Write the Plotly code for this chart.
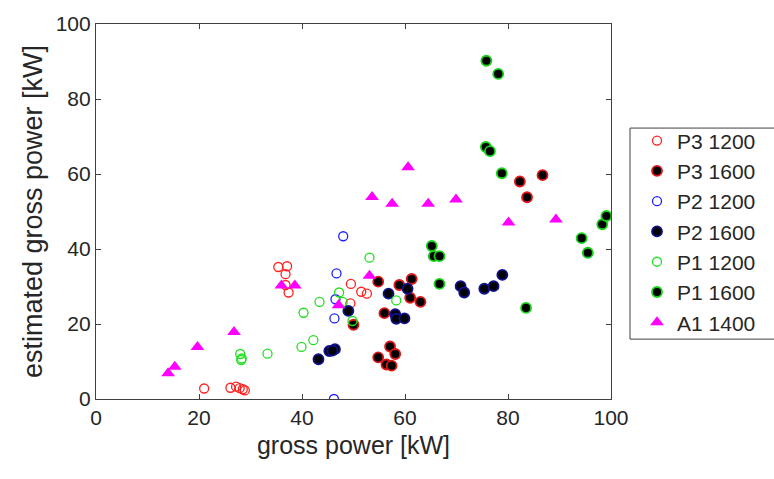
import plotly.graph_objects as go

# ---- data ----
p3_1200_x = [21.0, 26.1, 27.2, 27.9, 28.5, 28.9, 35.4, 37.1, 36.8, 37.4, 36.8, 49.5, 51.5, 52.6, 49.4]
p3_1200_y = [2.8, 3.0, 3.3, 2.9, 2.6, 2.3, 35.2, 35.4, 33.3, 28.4, 30.4, 30.7, 28.6, 28.1, 25.5]

p3_1600_x = [54.8, 58.9, 61.3, 61.0, 63.0, 56.0, 50.0, 57.1, 58.1, 54.8, 56.4, 57.4, 82.3, 86.7, 83.7]
p3_1600_y = [31.3, 30.4, 32.0, 27.0, 25.9, 22.9, 19.8, 14.0, 12.0, 11.1, 9.2, 8.9, 58.0, 59.7, 53.8]

p2_1200_x = [48.0, 46.7, 46.5, 46.3, 46.2]
p2_1200_y = [43.4, 33.5, 26.6, 21.5, 0.0]

p2_1600_x = [49.0, 58.1, 58.3, 59.9, 43.2, 45.3, 46.4, 45.9, 70.8, 71.5, 75.4, 77.2, 78.9, 56.8, 60.5]
p2_1600_y = [23.5, 22.6, 21.4, 21.5, 10.6, 12.8, 13.3, 12.9, 30.1, 28.4, 29.4, 30.1, 33.1, 28.1, 29.4]

p1_1200_x = [28.0, 28.2, 28.3, 33.3, 39.9, 42.2, 40.3, 43.4, 47.2, 47.9, 49.8, 53.1, 58.3]
p1_1200_y = [12.0, 10.4, 10.8, 12.1, 13.9, 15.7, 23.0, 25.9, 28.4, 25.9, 20.8, 37.7, 26.3]

p1_1600_x = [75.8, 78.1, 75.7, 76.5, 78.8, 65.2, 65.6, 66.7, 66.7, 83.5, 94.3, 95.5, 98.3, 99.1]
p1_1600_y = [90.2, 86.7, 67.2, 66.1, 60.2, 40.8, 38.1, 38.1, 30.7, 24.3, 42.9, 39.0, 46.6, 48.8]

a1_1400_x = [14.0, 15.3, 19.7, 26.8, 36.0, 38.6, 47.1, 53.1, 53.6, 57.5, 60.6, 64.5, 69.9, 80.1, 89.3]
a1_1400_y = [6.9, 8.6, 13.9, 17.9, 30.3, 30.3, 25.0, 32.9, 53.9, 52.1, 61.8, 52.1, 53.2, 47.1, 47.9]

ticks = [0, 20, 40, 60, 80, 100]

FONT = "Liberation Sans, Arial, sans-serif"
TXT = "#262626"

fig = go.Figure()

def open_circ(x, y, name, col):
    fig.add_trace(go.Scatter(x=x, y=y, mode="markers", name=name,
                             marker=dict(symbol="circle-open", size=9, color=col,
                                         line=dict(width=1.3, color=col))))

def filled_circ(x, y, name, col):
    fig.add_trace(go.Scatter(x=x, y=y, mode="markers", name=name,
                             marker=dict(symbol="circle", size=10, color="#000000",
                                         line=dict(width=1.8, color=col))))

open_circ(p3_1200_x, p3_1200_y, "P3 1200", "#ff2020")
filled_circ(p3_1600_x, p3_1600_y, "P3 1600", "#e01818")
open_circ(p2_1200_x, p2_1200_y, "P2 1200", "#2020ff")
filled_circ(p2_1600_x, p2_1600_y, "P2 1600", "#101090")
open_circ(p1_1200_x, p1_1200_y, "P1 1200", "#20e020")
filled_circ(p1_1600_x, p1_1600_y, "P1 1600", "#18d018")
fig.add_trace(go.Scatter(x=a1_1400_x, y=a1_1400_y, mode="markers", name="A1 1400",
                         marker=dict(symbol="triangle-up", size=12, color="#ff00ff",
                                     line=dict(width=0))))

axis_common = dict(
    tickmode="array", tickvals=ticks, ticktext=[str(t) for t in ticks],
    range=[0, 100], showgrid=False, zeroline=False,
    showline=True, linecolor="#404040", linewidth=1.2, mirror="ticks",
    ticks="inside", ticklen=5, tickcolor="#404040", tickwidth=1,
    tickfont=dict(family=FONT, size=21, color=TXT),
)

fig.update_layout(
    width=774, height=479,
    margin=dict(l=96, r=163, t=17, b=80),
    paper_bgcolor="white", plot_bgcolor="white",
    font=dict(family=FONT, color=TXT),
    xaxis=dict(axis_common, title=dict(text="gross power [kW]",
                                       font=dict(family=FONT, size=25, color=TXT), standoff=8)),
    yaxis=dict(axis_common, title=dict(text="estimated gross power [kW]",
                                       font=dict(family=FONT, size=27, color=TXT), standoff=5)),
    legend=dict(x=1.0505, xanchor="left", y=0.743, yanchor="top",
                borderwidth=0, bgcolor="rgba(0,0,0,0)",
                font=dict(family=FONT, size=21, color=TXT),
                itemwidth=30, tracegroupgap=0),
    showlegend=True,
    shapes=[dict(type="rect", xref="paper", yref="paper",
                 x0=1.0369, x1=1.3204, y0=0.1597, y1=0.7225,
                 line=dict(color="#404040", width=1), fillcolor="rgba(0,0,0,0)",
                 layer="below")],
)

fig.write_html("out.html")
